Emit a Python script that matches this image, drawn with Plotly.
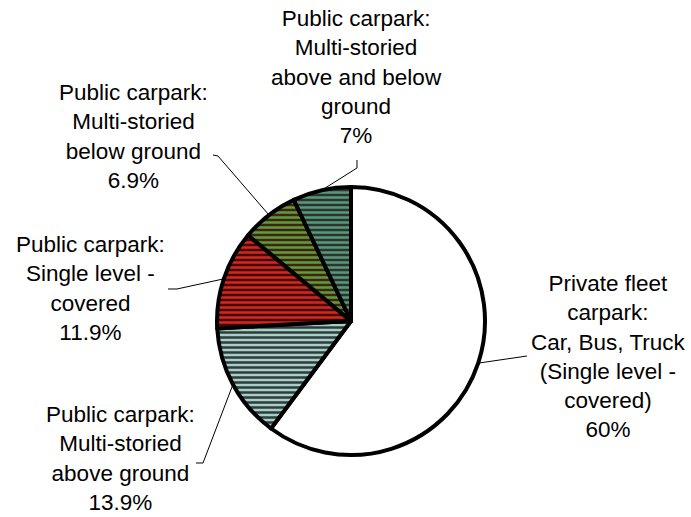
import math
import plotly.graph_objects as go

W, H = 691, 517

# Car park categories (text lines as printed) and their shares in percent
labels = [
    "Private fleet<br>carpark:<br>Car, Bus, Truck<br>(Single level -<br>covered)",
    "Public carpark:<br>Multi-storied<br>above ground",
    "Public carpark:<br>Single level -<br>covered",
    "Public carpark:<br>Multi-storied<br>below ground",
    "Public carpark:<br>Multi-storied<br>above and below<br>ground",
]
shares = [60, 13.9, 11.9, 6.9, 7]

# Slice fills
bg_colors = ["#ffffff", "#a6cec6", "#3e0c0a", "#3e2412", "#34302a"]
fg_colors = ["#ffffff", "#2e3b3a", "#d8261c", "#5f9c3a", "#4f9c80"]
shapes_pat = ["", "-", "-", "-", "-"]

# Pie geometry in pixels
cx, cy, R = 351, 321, 134

# Label block centre (x, y) plus leader line anchor on the text side
label_pos = [
    (608, 356, [(527, 356)]),
    (120, 458, [(196, 463), (203, 463)]),
    (90, 288, [(168, 289), (177, 289)]),
    (133, 136, [(213, 155), (218, 156)]),
    (357, 77, [(357, 160), (357, 168)]),
]


def px(x):
    return x / W


def py(y):
    return 1 - y / H


fig = go.Figure(
    go.Pie(
        values=shares,
        labels=[l.replace("<br>", " ") for l in labels],
        sort=False,
        direction="clockwise",
        rotation=0,
        textinfo="none",
        hoverinfo="label+value",
        marker=dict(
            colors=bg_colors,
            line=dict(color="#000000", width=4),
            pattern=dict(
                shape=shapes_pat,
                fgcolor=fg_colors,
                bgcolor=bg_colors,
                size=5,
                solidity=0.5,
                fillmode="replace",
            ),
        ),
        domain=dict(x=[px(cx - R), px(cx + R)], y=[py(cy + R), py(cy - R)]),
        showlegend=False,
    )
)

annotations = []
shapes = []
total = sum(shares)
cum = 0.0
for lab, val, (tx, ty, anchor) in zip(labels, shares, label_pos):
    annotations.append(dict(
        x=px(tx), y=py(ty), xref="paper", yref="paper",
        text=f"{lab}<br>{val:g}%", showarrow=False, align="center",
        xanchor="center", yanchor="middle",
        font=dict(family="Liberation Sans, Arial, sans-serif", size=22.5, color="#000000"),
    ))
    # leader line ends at the middle of the slice's arc
    mid = (cum + val / 2) / total * 2 * math.pi
    cum += val
    ex = cx + R * math.sin(mid)
    ey = cy - R * math.cos(mid)
    pts = anchor + [(ex, ey)]
    path = "M " + " L ".join(f"{px(x):.5f},{py(y):.5f}" for x, y in pts)
    shapes.append(dict(type="path", path=path, xref="paper", yref="paper",
                       line=dict(color="#000000", width=1)))

fig.update_layout(
    width=W, height=H,
    margin=dict(l=0, r=0, t=0, b=0),
    paper_bgcolor="#ffffff",
    plot_bgcolor="#ffffff",
    annotations=annotations,
    shapes=shapes,
)

fig.write_html("out.html")
